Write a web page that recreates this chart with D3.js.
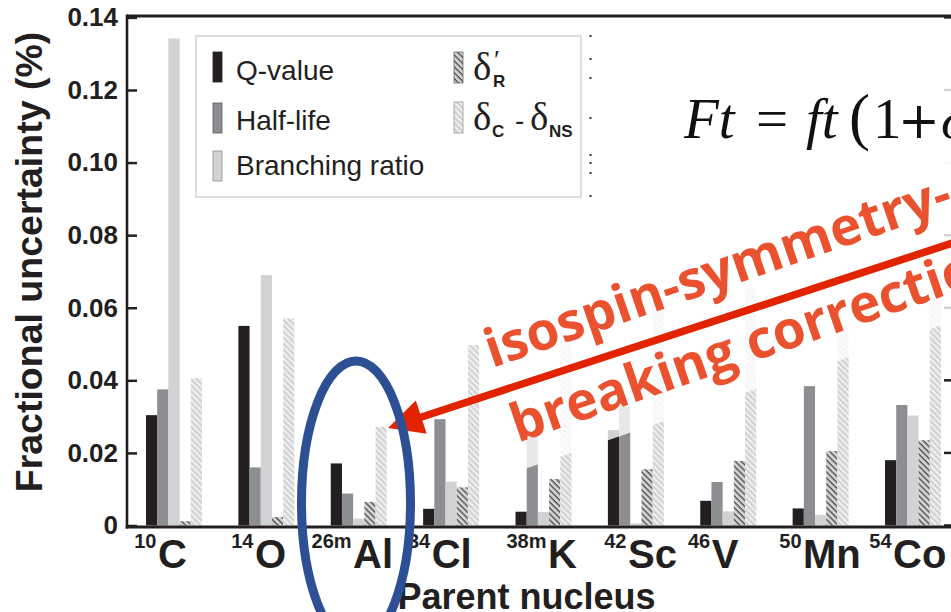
<!DOCTYPE html>
<html>
<head>
<meta charset="utf-8">
<script src="https://cdn.jsdelivr.net/npm/d3@7"></script>
<style>
  html, body { margin: 0; padding: 0; background: #fff; }
  svg { display: block; }
</style>
</head>
<body>
<svg id="chart" width="951" height="612"></svg>
<script>
// ---- data -------------------------------------------------------------
const massNumbers = ["10", "14", "26m", "34", "38m", "42", "46", "50", "54"];
const elements    = ["C", "O", "Al", "Cl", "K", "Sc", "V", "Mn", "Co"];
const seriesNames = ["Q-value", "Half-life", "Branching ratio", "δR′", "δC − δNS"];

// fractional uncertainty (%) of each contribution, per parent nucleus
const qValue    = [0.0304, 0.0550, 0.0171, 0.0046, 0.0038, 0.0263, 0.0068, 0.0047, 0.0180];
const halfLife  = [0.0375, 0.0160, 0.0088, 0.0293, 0.0244, 0.0330, 0.0120, 0.0384, 0.0332];
const branching = [0.1342, 0.0690, 0.0019, 0.0121, 0.0037, 0.0006, 0.0039, 0.0029, 0.0303];
const deltaR    = [0.0012, 0.0023, 0.0065, 0.0105, 0.0128, 0.0155, 0.0178, 0.0205, 0.0235];
const deltaCNS  = [0.0406, 0.0571, 0.0272, 0.0497, 0.0510, 0.0617, 0.0654, 0.0557, 0.0690];

const yTickValues = [0, 0.02, 0.04, 0.06, 0.08, 0.10, 0.12, 0.14];

// ---- layout -----------------------------------------------------------
const W = 951, H = 612;
const plot = { left: 127, top: 16, right: 960, bottom: 525.5 };
// horizontal offset of each element symbol from the start of its group
const labelOffset = [12, 16.6, 22.3, 8.6, 32.5, 20.1, 11.5, 10.4, 8];
const sansFont = "'Liberation Sans', Arial, Helvetica, sans-serif";
const serifFont = "'Liberation Serif', 'Times New Roman', serif";
const ink = "#231f20";

const svg = d3.select("#chart");
const defs = svg.append("defs");

function hatch(id, bg, stripe, sw) {
  const p = defs.append("pattern")
    .attr("id", id).attr("patternUnits", "userSpaceOnUse")
    .attr("width", 4.2).attr("height", 4.2)
    .attr("patternTransform", "rotate(-45)");
  p.append("rect").attr("width", 4.2).attr("height", 4.2).attr("fill", bg);
  p.append("line").attr("x1", 1).attr("y1", -1).attr("x2", 1).attr("y2", 6)
    .attr("stroke", stripe).attr("stroke-width", sw);
}
hatch("hatchR", "#d2d2d2", "#4a4a4a", 1.3);
hatch("hatchC", "#d3d3d4", "#f4f4f4", 1.7);

const fills = ["#231f20", "#8d8e91", "#d1d2d4", "url(#hatchR)", "url(#hatchC)"];
const seriesValues = [qValue, halfLife, branching, deltaR, deltaCNS];

const keys = massNumbers.map((m, i) => m + elements[i]);

const x0 = d3.scaleBand()
  .domain(keys)
  .range([plot.left, plot.left + 833])
  .paddingInner(0.394)
  .paddingOuter(0.2057);

const x1 = d3.scaleBand()
  .domain(seriesNames)
  .range([0, x0.bandwidth()]);

const y = d3.scaleLinear()
  .domain([0, 0.14])
  .range([plot.bottom, 17.4]);

const rows = keys.map((k, i) => ({
  key: k,
  values: seriesNames.map((s, j) => ({ series: s, j, v: seriesValues[j][i] }))
}));

// ---- bars -------------------------------------------------------------
const groups = svg.append("g").selectAll("g")
  .data(rows).join("g")
  .attr("transform", d => `translate(${x0(d.key)},0)`);

groups.selectAll("rect")
  .data(d => d.values).join("rect")
  .attr("x", d => x1(d.series))
  .attr("y", d => y(d.v))
  .attr("width", x1.bandwidth())
  .attr("height", d => y(0) - y(d.v))
  .attr("fill", d => fills[d.j]);

// ---- axes & frame -----------------------------------------------------
const yAxis = d3.axisLeft(y)
  .tickValues(yTickValues)
  .tickSize(-10)
  .tickSizeOuter(0)
  .tickPadding(9)
  .tickFormat(d => d === 0 ? "0" : d.toFixed(2));

const ga = svg.append("g").attr("transform", `translate(${plot.left},0)`).call(yAxis);
ga.select(".domain").remove();
ga.selectAll(".tick line").attr("stroke", ink).attr("stroke-width", 2.5);
ga.selectAll(".tick text")
  .attr("fill", ink)
  .style("font-family", sansFont)
  .style("font-weight", "bold")
  .style("font-size", "26px");

// right-hand inward ticks
svg.append("g").selectAll("line")
  .data(yTickValues).join("line")
  .attr("x1", 944).attr("x2", W)
  .attr("y1", d => y(d)).attr("y2", d => y(d))
  .attr("stroke", ink).attr("stroke-width", 2.5);

// frame lines
svg.append("line").attr("x1", plot.left).attr("x2", W)
  .attr("y1", plot.top).attr("y2", plot.top)
  .attr("stroke", ink).attr("stroke-width", 2.8);
svg.append("line").attr("x1", plot.left).attr("x2", plot.left)
  .attr("y1", plot.top - 1.4).attr("y2", 528.5)
  .attr("stroke", ink).attr("stroke-width", 2.6);
svg.append("line").attr("x1", plot.left - 1.3).attr("x2", W)
  .attr("y1", 527).attr("y2", 527)
  .attr("stroke", ink).attr("stroke-width", 3);

// nucleus labels with mass-number superscripts
const labels = svg.append("g").selectAll("g")
  .data(keys).join("g");
labels.append("text")
  .attr("x", (d, i) => x0(d) + labelOffset[i] - 1.5)
  .attr("y", 548)
  .attr("text-anchor", "end")
  .style("font-family", sansFont).style("font-weight", "bold").style("font-size", "20px")
  .attr("fill", ink)
  .text((d, i) => massNumbers[i]);
labels.append("text")
  .attr("x", (d, i) => x0(d) + labelOffset[i])
  .attr("y", 568)
  .style("font-family", sansFont).style("font-weight", "bold").style("font-size", "40px")
  .attr("fill", ink)
  .text((d, i) => elements[i]);

// axis titles
svg.append("text")
  .attr("transform", "translate(42,262) rotate(-90)")
  .attr("text-anchor", "middle")
  .style("font-family", sansFont).style("font-weight", "bold").style("font-size", "37.5px")
  .attr("fill", ink)
  .text("Fractional uncertainty (%)");
svg.append("text")
  .attr("x", 526.5).attr("y", 609)
  .attr("text-anchor", "middle")
  .style("font-family", sansFont).style("font-weight", "bold").style("font-size", "36px")
  .attr("fill", ink)
  .text("Parent nucleus");

// ---- legend -----------------------------------------------------------
const lg = svg.append("g");
lg.append("rect").attr("x", 196).attr("y", 36).attr("width", 385).attr("height", 161)
  .attr("fill", "#fff").attr("stroke", "#c9c9c9").attr("stroke-width", 1.2);

const legendLeft = [
  { j: 0, x: 213, y: 52, label: "Q-value", ty: 80 },
  { j: 1, x: 213, y: 103, label: "Half-life", ty: 130 },
  { j: 2, x: 213, y: 151, label: "Branching ratio", ty: 175 }
];
const swatchStroke = ["#231f20", "#5a5a5c", "#8d8e91", "#6a6a6a", "#9a9a9a"];
lg.selectAll("rect.sw").data(legendLeft).join("rect")
  .attr("class", "sw")
  .attr("x", d => d.x).attr("y", d => d.y).attr("width", 9).attr("height", 30)
  .attr("fill", d => fills[d.j]).attr("stroke", d => swatchStroke[d.j]).attr("stroke-width", 0.8);
lg.selectAll("text.lbl").data(legendLeft).join("text")
  .attr("class", "lbl")
  .attr("x", 236).attr("y", d => d.ty)
  .style("font-family", sansFont).style("font-size", "28px")
  .attr("fill", ink)
  .text(d => d.label);

// hatched legend entries with symbol labels
lg.append("rect").attr("x", 454).attr("y", 52).attr("width", 9).attr("height", 31)
  .attr("fill", fills[3]).attr("stroke", swatchStroke[3]).attr("stroke-width", 0.8);
lg.append("rect").attr("x", 454).attr("y", 102).attr("width", 9).attr("height", 31)
  .attr("fill", fills[4]).attr("stroke", swatchStroke[4]).attr("stroke-width", 0.8);

function sym(txt, x, yy, size, family, weight) {
  lg.append("text").attr("x", x).attr("y", yy)
    .style("font-family", family).style("font-size", size + "px")
    .style("font-weight", weight || "normal")
    .attr("fill", ink).text(txt);
}
sym("δ", 473, 80, 39, serifFont);
sym("′", 494, 69, 27, serifFont);
sym("R", 493, 87, 17, sansFont, "bold");
sym("δ", 473, 130, 39, serifFont);
sym("C", 492, 137, 17, sansFont, "bold");
sym("-", 515, 130, 28, sansFont);
sym("δ", 530, 130, 39, serifFont);
sym("NS", 549, 137, 17, sansFont, "bold");

// small marks beside the legend
svg.append("g").selectAll("rect")
  .data([36, 59, 78, 118, 155, 163, 173, 196]).join("rect")
  .attr("x", 589.5).attr("y", d => d - 1).attr("width", 2).attr("height", 2)
  .attr("fill", "#333");

// ---- annotations ------------------------------------------------------
// translucent panels behind the formula and the rotated caption
svg.append("rect").attr("x", 640).attr("y", 40).attr("width", 320).attr("height", 180)
  .attr("fill", "#fff").attr("opacity", 0.8);

const cap = svg.append("g").attr("transform", "translate(492,368) rotate(-19)");
cap.append("rect").attr("x", -2).attr("y", -62).attr("width", 620).attr("height", 168)
  .attr("fill", "#fff").attr("opacity", 0.8);
const capStyle = s => s.style("font-family", "'Open Sans', 'Noto Sans', sans-serif")
  .style("font-weight", "bold").style("font-size", "53px").attr("fill", "#e9512f");
cap.append("text").attr("x", 0).attr("y", 0).call(capStyle).text("isospin-symmetry-");
cap.append("text").attr("x", 0).attr("y", 79).call(capStyle).text("breaking correction");

// formula
const fm = svg.append("g")
  .style("font-family", serifFont).style("font-size", "57px").attr("fill", "#111");
[
  { t: "Ft", x: 684, y: 138, it: true },
  { t: "=", x: 756, y: 138, it: false },
  { t: "ft", x: 806, y: 138, it: true },
  { t: "(", x: 849, y: 138, it: false, size: 63 },
  { t: "1", x: 873, y: 138, it: false },
  { t: "+", x: 898, y: 138, it: false, size: 50, fam: "'DejaVu Serif', serif" },
  { t: "δ", x: 941, y: 138, it: true }
].forEach(p => {
  fm.append("text").attr("x", p.x).attr("y", p.y)
    .style("font-style", p.it ? "italic" : "normal")
    .style("font-size", p.size ? p.size + "px" : null)
    .style("font-family", p.fam || null)
    .text(p.t);
});

// arrow pointing to the 26mAl isospin correction bar
const tip = [388, 428], tail = [980, 234];
const dx = tail[0] - tip[0], dy = tail[1] - tip[1];
const len = Math.hypot(dx, dy), ux = dx / len, uy = dy / len;
const headLen = 35, headHalf = 17.5;
const base = [tip[0] + ux * headLen, tip[1] + uy * headLen];
svg.append("line")
  .attr("x1", base[0] - ux * 2).attr("y1", base[1] - uy * 2)
  .attr("x2", tail[0]).attr("y2", tail[1])
  .attr("stroke", "#e12300").attr("stroke-width", 7.5);
svg.append("path")
  .attr("d", `M${tip[0]},${tip[1]} L${base[0] - uy * headHalf},${base[1] + ux * headHalf} L${base[0] + uy * headHalf},${base[1] - ux * headHalf} Z`)
  .attr("fill", "#e12300");

// highlight ellipse around 26mAl
svg.append("ellipse")
  .attr("cx", 356).attr("cy", 503).attr("rx", 54.5).attr("ry", 142)
  .attr("fill", "none").attr("stroke", "#2d4f94").attr("stroke-width", 9);
</script>
</body>
</html>
